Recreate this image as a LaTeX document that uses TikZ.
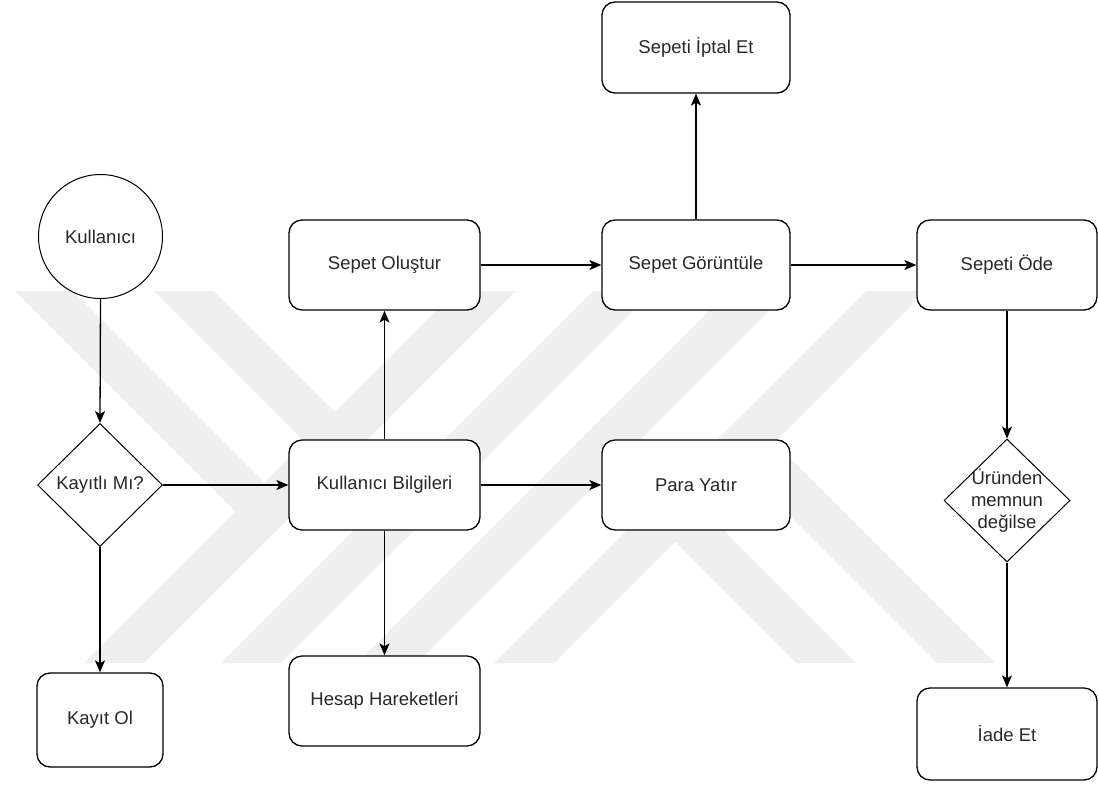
\documentclass[tikz,border=0pt]{standalone}
\usepackage{fontspec}
\setmainfont{Liberation Sans}
\usetikzlibrary{shapes.geometric,arrows.meta}
\definecolor{wm}{RGB}{239,239,239}
\definecolor{txt}{RGB}{40,40,40}
\begin{document}
\begin{tikzpicture}[x=1pt,y=-1pt,
  lbl/.style={font=\fontsize{18.5}{21.7}\selectfont, text=txt},
  box/.style={draw=black, line width=1.3pt, rounded corners=13pt, fill=white,
    minimum width=191pt, minimum height=90pt, inner sep=0pt, lbl},
  dia/.style={draw=black, line width=1pt, fill=white, diamond, inner sep=0pt,
    minimum width=125pt, minimum height=123pt, lbl},
  arr/.style={draw=black, line width=1.3pt, -{Stealth[length=12pt,width=10pt,inset=3pt]}},
  wmark/.style={fill=wm}]
\useasboundingbox (0,0) rectangle (1098,787);
\fill[white] (0,0) rectangle (1098,787);
% faint watermark
\fill[wmark] (456,291) -- (516,291) -- (144,663) -- (84,663) -- cycle;
\fill[wmark] (593,291) -- (653,291) -- (281,663) -- (221,663) -- cycle;
\fill[wmark] (729,291) -- (789,291) -- (417,663) -- (357,663) -- cycle;
\fill[wmark] (866,291) -- (926,291) -- (554,663) -- (494,663) -- cycle;
\fill[wmark] (15,291) -- (73,291) -- (294.5,512.5) -- (265.5,541.5) -- cycle;
\fill[wmark] (154,291) -- (214,291) -- (433.5,510.5) -- (403.5,540.5) -- cycle;
\fill[wmark] (576.5,443.5) -- (606.5,413.5) -- (856,663) -- (796,663) -- cycle;
\fill[wmark] (715.5,441.5) -- (744.5,412.5) -- (995,663) -- (937,663) -- cycle;
% nodes
\node[draw=black, line width=1pt, fill=white, circle, minimum size=124pt, inner sep=0pt, lbl] (kull) at (100.5,236.5) {Kullanıcı};
\node[dia] (kay) at (100,485) {Kayıtlı Mı?};
\node[box, minimum width=126pt, minimum height=94pt] (ko) at (100,720) {Kayıt Ol};
\node[box] (so) at (384.5,265) {Sepet Oluştur};
\node[box] (kb) at (384.5,485) {Kullanıcı Bilgileri};
\node[box] (hh) at (384.5,701) {Hesap Hareketleri};
\node[box, minimum width=188pt, minimum height=91pt] (sie) at (696,47.5) {Sepeti İptal Et};
\node[box, minimum width=188pt] (sg) at (696,265) {Sepet Görüntüle};
\node[box, minimum width=188pt] (py) at (696,485) {Para Yatır};
\node[box, minimum width=180pt] (sode) at (1007,265) {Sepeti Öde};
\node[dia, minimum width=126pt, label={[lbl, align=center]center:Üründen\\memnun\\değilse}] (ur) at (1007,500.5) {};
\node[box, minimum width=180pt, minimum height=92pt] (iade) at (1007,734) {İade Et};
% connectors
\draw[arr] (kull.south) -- (kay.north);
\draw[arr] (kay.east) -- (kb.west);
\draw[arr] (kay.south) -- (ko.north);
\draw[arr] (kb.north) -- (so.south);
\draw[arr] (kb.south) -- (hh.north);
\draw[arr] (kb.east) -- (py.west);
\draw[arr] (so.east) -- (sg.west);
\draw[arr] (sg.north) -- (sie.south);
\draw[arr] (sg.east) -- (sode.west);
\draw[arr] (sode.south) -- (ur.north);
\draw[arr] (ur.south) -- (iade.north);
\end{tikzpicture}
\end{document}
